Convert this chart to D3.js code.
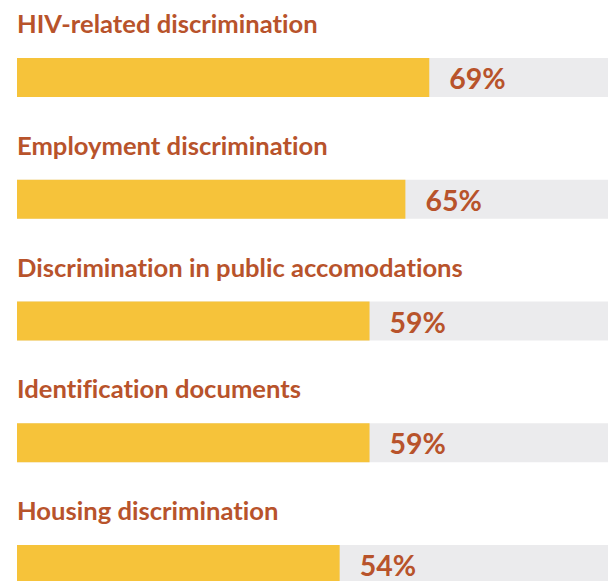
<!DOCTYPE html>
<html>
<head>
<meta charset="utf-8">
<script src="https://cdn.jsdelivr.net/npm/d3@7"></script>
<style>
  html, body { margin: 0; padding: 0; background: #ffffff; overflow: hidden; }
  svg { display: block; }
  text { font-variant-ligatures: none; font-feature-settings: "liga" 0; }
</style>
</head>
<body>
<svg id="chart" width="608" height="581"></svg>
<script>
const categories = [
  "HIV-related discrimination",
  "Employment discrimination",
  "Discrimination in public accomodations",
  "Identification documents",
  "Housing discrimination"
];
const values = [69, 65, 59, 59, 54];
const valueLabels = ["69%", "65%", "59%", "59%", "54%"];

const W = 608, H = 581;
const textColor = "#B8532B";
const barColor = "#F6C33A";
const trackColor = "#EBEBED";
const font = "Lato, 'Open Sans', sans-serif";

const svg = d3.select("#chart");

const x = d3.scaleLinear().domain([0, 100]).range([17, 614.5]);
const y = d3.scaleBand().domain(categories).range([58, 58 + 121.75 * 5]).paddingInner(0).paddingOuter(0);
const barH = 39;

const rows = svg.selectAll("g.row")
  .data(categories.map((c, i) => ({ cat: c, v: values[i], lab: valueLabels[i] })))
  .join("g")
  .attr("class", "row")
  .attr("transform", d => `translate(0,${y(d.cat)})`);

rows.append("rect")
  .attr("x", x(0))
  .attr("y", 0)
  .attr("width", x(100) - x(0))
  .attr("height", barH)
  .attr("fill", trackColor);

rows.append("rect")
  .attr("x", x(0))
  .attr("y", 0)
  .attr("width", d => x(d.v) - x(0))
  .attr("height", barH)
  .attr("fill", barColor);

rows.append("text")
  .attr("x", x(0))
  .attr("y", -25)
  .attr("fill", textColor)
  .attr("font-family", font)
  .attr("font-weight", 700)
  .attr("font-size", 25.6)
  .text(d => d.cat);

rows.append("text")
  .attr("x", d => x(d.v) + 20)
  .attr("y", 31)
  .attr("fill", textColor)
  .attr("font-family", font)
  .attr("font-weight", 700)
  .attr("font-size", 28.5)
  .text(d => d.lab);
</script>
</body>
</html>
